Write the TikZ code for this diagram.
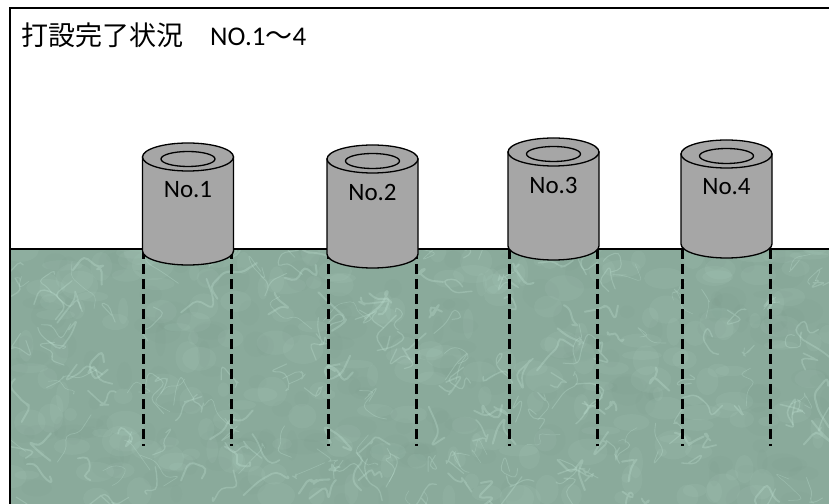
\documentclass[tikz,border=0pt]{standalone}
\usepackage{fontspec}
\setmainfont{Carlito}
\newfontfamily\cjk{Noto Sans CJK JP}
\newfontfamily\latin{Carlito}
\definecolor{soil}{RGB}{138,170,155}
\definecolor{vein}{RGB}{196,230,216}
\definecolor{veindark}{RGB}{120,148,135}
\definecolor{pipegray}{RGB}{166,166,166}
\tikzset{
  frameline/.style={line width=1.8pt, black},
  pipebody/.style={fill=pipegray, draw=black, line width=1.3pt},
  pipehole/.style={draw=black, line width=1.3pt},
  pilehint/.style={line width=3pt, black, dash pattern=on 10pt off 5pt},
  pipelabel/.style={font=\latin\fontsize{25}{28}\selectfont, inner sep=0pt},
  lightvein/.style={draw=vein, opacity=0.28, line join=round, line cap=round, rounded corners=5pt},
  blotch/.style={fill=#1, opacity=0.08}
}
\begin{document}
\begin{tikzpicture}[x=1pt, y=1pt]
\useasboundingbox (0,0) rectangle (829,503);
\clip (0,0) rectangle (829,503);
\fill[white] (0,0) rectangle (829,503);

% ground block with marbled texture
\fill[soil] (10,-5) rectangle (835,254);
\begin{scope}
  \clip (10,-5) rectangle (835,254);
  \pgfmathsetseed{11}
  % soft light and dark patches
  \foreach \i in {1,...,420}{
    \pgfmathsetmacro\xa{10+rnd*820}
    \pgfmathsetmacro\ya{rnd*260}
    \pgfmathsetmacro\ra{5+rnd*16}
    \pgfmathsetmacro\rb{4+rnd*12}
    \pgfmathparse{rnd<0.55 ? "vein" : "veindark"}
    \edef\bc{\pgfmathresult}
    \fill[blotch=\bc] (\xa,\ya) ellipse [x radius=\ra pt, y radius=\rb pt];
  }
  % thin wandering veins
  \foreach \i in {1,...,220}{
    \pgfmathsetmacro\xa{10+rnd*820}
    \pgfmathsetmacro\ya{rnd*260}
    \pgfmathsetmacro\w{0.5+rnd*1.6}
    \draw[lightvein, line width=\w pt] (\xa,\ya) -- ++(rand*18,rand*18)
      -- ++(rand*18,rand*18) -- ++(rand*18,rand*18) -- ++(rand*18,rand*18);
  }
\end{scope}

% outer frame and ground surface
\draw[frameline] (10,-5) -- (10,495) -- (835,495);
\draw[frameline] (10,254) -- (835,254);

% title
\node[anchor=base west, inner sep=0pt] (title) at (21,457)
  {\cjk\fontsize{27}{30}\selectfont 打設完了状況　{\latin NO.1}～{\latin 4}};

% pipes: centre x / top ellipse y / bottom ellipse y / name / label
\foreach \cx/\yt/\yb/\nm/\lab in {188/346/252/p1/No.1, 372.5/344/249/p2/No.2, 553.5/351/257/p3/No.3, 726.5/349/259/p4/No.4}{
  % pile continuation below the surface
  \coordinate (\nm-lt) at ({\cx-44.5},254);
  \coordinate (\nm-lb) at ({\cx-44.5},57);
  \coordinate (\nm-rt) at ({\cx+43.5},254);
  \coordinate (\nm-rb) at ({\cx+43.5},57);
  \draw[pilehint] (\nm-lt) -- (\nm-lb);
  \draw[pilehint] (\nm-rt) -- (\nm-rb);
  % cylinder body
  \draw[pipebody] ({\cx-45.5},\yt) -- ({\cx-45.5},\yb)
     arc[start angle=180, end angle=360, x radius=45.5pt, y radius=14pt]
     -- ({\cx+45.5},\yt) -- cycle;
  \draw[pipebody] (\cx,\yt) ellipse [x radius=45.5pt, y radius=14pt];
  \draw[pipehole] (\cx,\yt-2) ellipse [x radius=27pt, y radius=7.5pt];
  \node[pipelabel] (\nm) at (\cx,\yt-33) {\lab};
}
\end{tikzpicture}
\end{document}
